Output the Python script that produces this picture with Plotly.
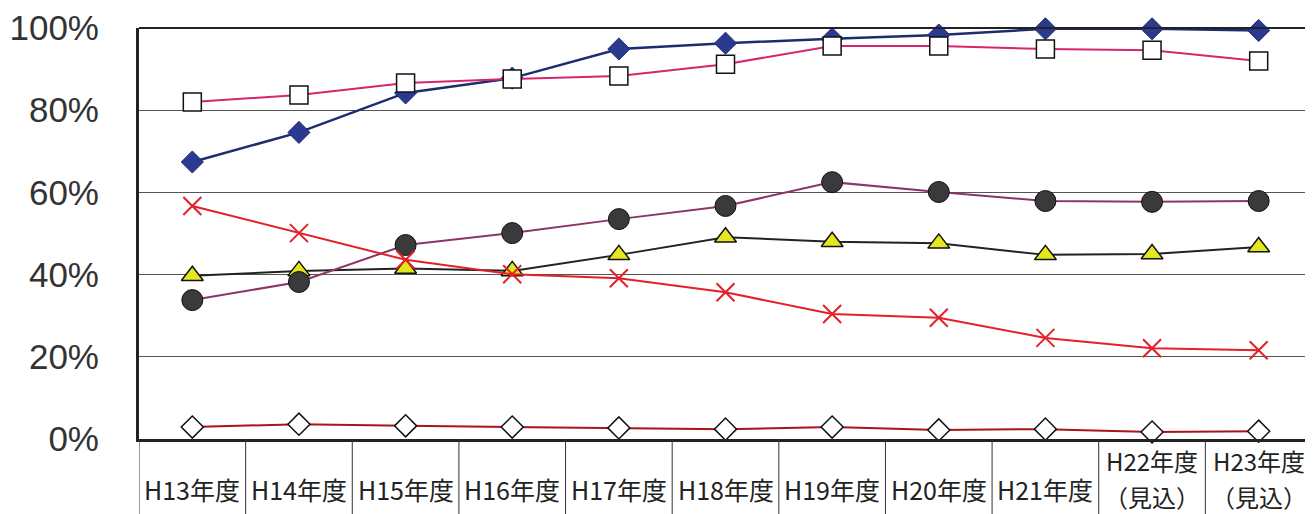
import plotly.graph_objects as go

categories = ["H13年度", "H14年度", "H15年度", "H16年度", "H17年度", "H18年度",
              "H19年度", "H20年度", "H21年度", "H22年度<br>（見込）", "H23年度<br>（見込）"]
x_idx = list(range(len(categories)))

s_diamond = [67.4, 74.6, 84.2, 87.8, 94.9, 96.3, 97.4, 98.3, 99.8, 99.8, 99.4]
s_square = [82.0, 83.7, 86.6, 87.6, 88.3, 91.2, 95.6, 95.6, 94.9, 94.6, 92.0]
s_triangle = [39.7, 40.9, 41.5, 40.9, 44.8, 49.1, 48.0, 47.6, 44.8, 45.0, 46.7]
s_circle = [33.8, 38.2, 47.2, 50.1, 53.5, 56.7, 62.5, 60.1, 57.9, 57.7, 57.9]
s_cross = [56.7, 50.1, 43.6, 40.1, 39.1, 35.7, 30.4, 29.5, 24.6, 22.1, 21.6]
s_open = [2.9, 3.6, 3.2, 2.9, 2.7, 2.4, 2.9, 2.2, 2.4, 1.7, 1.9]

y_ticks = [0, 20, 40, 60, 80, 100]
y_ticklabels = ["0%", "20%", "40%", "60%", "80%", "100%"]

fig = go.Figure()

def add(vals, line_color, lw, symbol, size, fill, mline, mlw):
    fig.add_trace(go.Scatter(
        x=x_idx, y=vals, mode="lines+markers", cliponaxis=False,
        line=dict(color=line_color, width=lw),
        marker=dict(symbol=symbol, size=size, color=fill,
                    line=dict(color=mline, width=mlw)),
        showlegend=False, hoverinfo="y"))

add(s_diamond, "#1E2C6E", 2.5, "diamond", 17, "#2B3990", "#1E2C6E", 1)
add(s_triangle, "#222222", 2, "triangle-up", 19, "#E6E620", "#111111", 1.5)
add(s_circle, "#8A3468", 2, "circle", 21, "#3A3A3C", "#111111", 1)
add(s_square, "#D6246E", 2, "square", 18, "#FFFFFF", "#111111", 1.5)
add(s_cross, "#E3202A", 2, "x-thin", 18, "#E3202A", "#E3202A", 2)
add(s_open, "#A8161A", 2, "diamond", 17, "#FFFFFF", "#111111", 1.5)

PH = 411  # plot height in px
shapes = []
ybot = -75 / PH
for i in range(len(categories) + 1):
    shapes.append(dict(type="line", xref="x", yref="paper", x0=i - 0.5, x1=i - 0.5,
                       y0=0, y1=ybot, line=dict(color="#333333", width=1)))
shapes.append(dict(type="line", xref="paper", yref="paper", x0=0, x1=1, y0=1, y1=1,
                   line=dict(color="#222222", width=2)))
shapes.append(dict(type="line", xref="paper", yref="paper", x0=1, x1=1, y0=0, y1=1,
                   line=dict(color="#222222", width=2)))

annotations = []
for i, lab in enumerate(categories):
    lines = lab.split("<br>")
    offsets = [-50] if len(lines) == 1 else [-21, -57]
    fsize = 25 if len(lines) == 1 else 24
    for line_text, off in zip(lines, offsets):
        annotations.append(dict(x=i, xref="x", y=off / PH, yref="paper",
                                text=line_text, showarrow=False, yanchor="middle",
                                xanchor="center", borderpad=0,
                                font=dict(family="Noto Sans CJK JP", size=fsize,
                                          color="#222222")))

fig.update_layout(
    width=1305, height=506,
    margin=dict(l=131, r=1, t=20, b=75),
    paper_bgcolor="white", plot_bgcolor="white",
    shapes=shapes, annotations=annotations,
    xaxis=dict(range=[-0.5, len(categories) - 0.5], showticklabels=False, showgrid=False,
               zeroline=False, showline=True, linecolor="#222222", linewidth=3,
               tickvals=x_idx, ticks=""),
    yaxis=dict(range=[0, 100], tickvals=y_ticks, ticktext=y_ticklabels,
               showgrid=True, gridcolor="#555555", gridwidth=1, zeroline=False,
               showline=True, linecolor="#222222", linewidth=3, ticks="",
               ticklabelstandoff=30, ticklabeloverflow="allow",
               tickfont=dict(family="Liberation Sans", size=35, color="#333333")),
)

fig.write_html("out.html")
